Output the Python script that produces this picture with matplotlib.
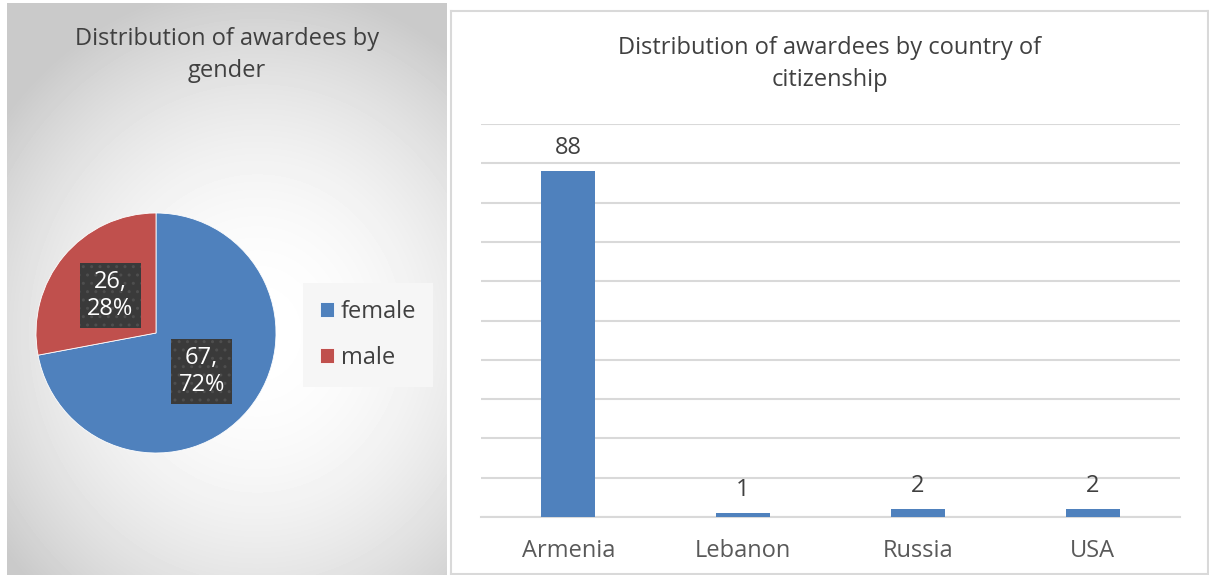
import numpy as np
import matplotlib
matplotlib.use('Agg')
import matplotlib.pyplot as plt

# data
genders = ['female', 'male']
gender_counts = [67, 26]
gender_pct = ['72%', '28%']
countries = ['Armenia', 'Lebanon', 'Russia', 'USA']
country_counts = [88, 1, 2, 2]

plt.rcParams['font.family'] = ['Open Sans', 'DejaVu Sans']

W, H = 1209, 575
fig = plt.figure(figsize=(W / 100, H / 100), dpi=100)
fig.patch.set_facecolor('white')

def fx(px):
    return px / W

def fy(py):
    return 1 - py / H

# ---- left panel: radial gradient background
bg = fig.add_axes([fx(7), 0, fx(447) - fx(7), fy(3)])
yy, xx = np.mgrid[0:572, 0:440]
d = np.sqrt(((xx - 250) / 330.0) ** 2 + ((yy - 330) / 360.0) ** 2)
shade = np.clip(1.0 - 0.22 * d ** 2, 0.79, 1.0)
bg.imshow(shade, cmap='gray', vmin=0, vmax=1, aspect='auto', interpolation='bilinear')
bg.set_axis_off()

fig.text(fx(227), fy(55), 'Distribution of awardees by\ngender', ha='center', va='center',
         fontsize=17, color='#404040', linespacing=1.4)

# pie
r = 120
pax = fig.add_axes([fx(156 - r), fy(333 + r), fx(2 * r), (2 * r) / H])
wedges, _ = pax.pie(gender_counts, colors=['#4F81BD', '#C0504D'], startangle=90,
                    counterclock=False, radius=1,
                    wedgeprops=dict(edgecolor='white', linewidth=0.6))
pax.set_xlim(-1, 1)
pax.set_ylim(-1, 1)
pax.set_aspect('auto')

label_pos = [(0.38, -0.32), (-0.38, 0.31)]
for (lx, ly), c, p in zip(label_pos, gender_counts, gender_pct):
    t = pax.text(lx, ly, '%d,\n%s' % (c, p), ha='center', va='center', color='white',
                 fontsize=17, linespacing=1.15,
                 bbox=dict(boxstyle='square,pad=0.3', facecolor='#3a3a3a', edgecolor='#4e4e4e', linewidth=0))
    t.get_bbox_patch().set_hatch('..')

# legend
leg = fig.legend(wedges, genders, loc='center', bbox_to_anchor=(fx(368), fy(335)),
                 fontsize=17, frameon=True, handlelength=0.6, handleheight=0.6,
                 labelspacing=0.95, handletextpad=0.3, borderpad=0.4, borderaxespad=0)
leg.get_frame().set_facecolor('#f6f6f6')
leg.get_frame().set_edgecolor('none')
leg.get_frame().set_alpha(1)
leg.get_frame().set_boxstyle('square')
for txt in leg.get_texts():
    txt.set_color('#404040')

# ---- right panel
panel = fig.add_axes([fx(451), fy(574), fx(1208) - fx(451), fy(11) - fy(574)])
panel.set_xticks([])
panel.set_yticks([])
for s in panel.spines.values():
    s.set_color('#d9d9d9')
    s.set_linewidth(1.5)

fig.text(fx(830), fy(64), 'Distribution of awardees by country of\ncitizenship', ha='center',
         va='center', fontsize=17, color='#404040', linespacing=1.4)

bax = fig.add_axes([fx(481), fy(517), fx(1180) - fx(481), (517 - 124) / H])
x = np.arange(len(countries))
bars = bax.bar(x, country_counts, width=0.31, color='#4F81BD', zorder=3)
bax.set_xlim(-0.5, len(countries) - 0.5)
bax.set_ylim(0, 100)
bax.set_yticks(np.arange(0, 101, 10))
bax.yaxis.grid(True, color='#d9d9d9', linewidth=1.5, zorder=0)
bax.tick_params(axis='y', left=False, labelleft=False)
bax.tick_params(axis='x', length=0, labelsize=17, labelcolor='#595959', pad=16)
bax.set_xticks(x)
bax.set_xticklabels(countries)
for s in ['top', 'right', 'left']:
    bax.spines[s].set_visible(False)
bax.spines['bottom'].set_color('#d9d9d9')
bax.spines['bottom'].set_linewidth(1.5)
bax.set_facecolor('none')
for b, v in zip(bars, country_counts):
    bax.annotate(str(v), (b.get_x() + b.get_width() / 2, v), xytext=(0, 8),
                 textcoords='offset points', ha='center', va='bottom',
                 fontsize=17, color='#404040')

fig.savefig('out.png', dpi=100)
